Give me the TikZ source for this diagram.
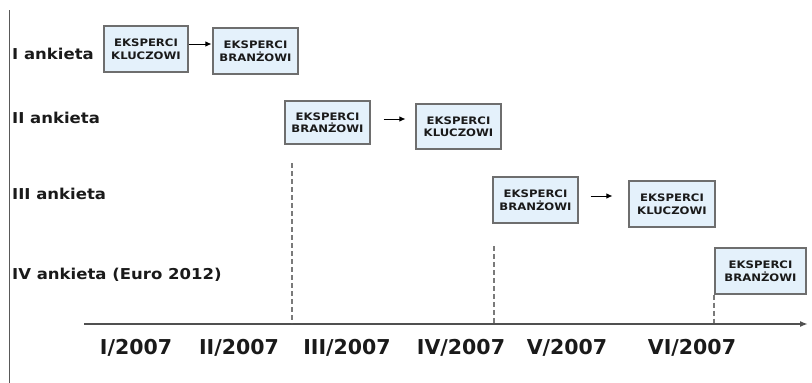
\documentclass[tikz,border=0pt]{standalone}
\usepackage{fontspec}
\setmainfont{DejaVu Sans}
\newfontfamily\boxfont[FakeStretch=1.13]{DejaVu Sans}
\newfontfamily\rowfont[FakeStretch=1.1]{DejaVu Sans}
\usetikzlibrary{arrows.meta}
\definecolor{boxfill}{HTML}{E4F1FB}
\definecolor{boxline}{HTML}{6E6E6E}
\definecolor{dashcol}{HTML}{7A7A7A}
\definecolor{axiscol}{HTML}{505050}
\definecolor{txt}{HTML}{1A1A1A}
\tikzset{
  stagebox/.style={draw=boxline, line width=1.1pt, fill=boxfill, minimum width=85pt, minimum height=45pt,
    inner sep=0pt, align=center, text=txt, font=\boxfont\bfseries\fontsize{10.3}{12.5}\selectfont},
  rowlabel/.style={anchor=west, inner sep=0pt, text=txt, font=\rowfont\bfseries\fontsize{15}{18}\selectfont},
  yearlabel/.style={inner sep=0pt, text=txt, font=\bfseries\fontsize{20.5}{24}\selectfont},
  flow/.style={-{Latex[length=6pt,width=5.5pt]}, line width=0.9pt, black},
  timeline/.style={-{Latex[length=8pt,width=6pt]}, line width=1.8pt, axiscol},
  marker/.style={dashcol, line width=1.1pt, dash pattern=on 5pt off 3pt},
}
\begin{document}
\begin{tikzpicture}[x=1pt,y=-1pt]
\useasboundingbox (0,0) rectangle (812,383);
% left border line
\coordinate (lt) at (9.5,10);
\coordinate (lb) at (9.5,383);
\draw[line width=1pt, black!65] (lt) -- (lb);
% row labels
\node[rowlabel] (r1) at (12,54) {I ankieta};
\node[rowlabel] (r2) at (12,118) {II ankieta};
\node[rowlabel] (r3) at (12,194) {III ankieta};
\node[rowlabel] (r4) at (12,275) {IV ankieta (Euro 2012)};
% boxes
\node[stagebox, minimum width=84pt, minimum height=46pt] (A) at (146,49) {EKSPERCI\\KLUCZOWI};
\node[stagebox, minimum height=46pt] (B) at (255.5,51) {EKSPERCI\\BRANŻOWI};
\node[stagebox, minimum height=43pt] (C) at (327.5,122.5) {EKSPERCI\\BRANŻOWI};
\node[stagebox] (D) at (458.5,126.5) {EKSPERCI\\KLUCZOWI};
\node[stagebox, minimum height=46pt] (E) at (535.5,200) {EKSPERCI\\BRANŻOWI};
\node[stagebox, minimum width=86pt, minimum height=46pt] (F) at (672,204) {EKSPERCI\\KLUCZOWI};
\node[stagebox, minimum width=91pt, minimum height=46pt] (G) at (760.5,271) {EKSPERCI\\BRANŻOWI};
% flow arrows
\draw[flow, shorten >=1pt] ([yshift=5pt]A.east) -- ([yshift=7pt]B.west);
\draw[flow, shorten <=13pt, shorten >=10pt] ([yshift=3.5pt]C.east) -- ([yshift=7.5pt]D.west);
\draw[flow, shorten <=12pt, shorten >=16pt] ([yshift=4pt]E.east) -- ([yshift=8pt]F.west);
% time axis
\coordinate (ax0) at (84,324);
\coordinate (ax1) at (808,324);
\draw[timeline] (ax0) -- (ax1);
% dashed markers
\coordinate (m1t) at (292,163);
\coordinate (m1b) at (292,323);
\coordinate (m2t) at (494,246);
\coordinate (m2b) at (494,323);
\coordinate (m3b) at (714,323);
\draw[marker] (m1t) -- (m1b);
\draw[marker] (m2t) -- (m2b);
\draw[marker] (G.south west -| m3b) -- (m3b);
% year labels
\node[yearlabel] (y1) at (136,348) {I/2007};
\node[yearlabel] (y2) at (239,348) {II/2007};
\node[yearlabel] (y3) at (347,348) {III/2007};
\node[yearlabel] (y4) at (461,348) {IV/2007};
\node[yearlabel] (y5) at (567,348) {V/2007};
\node[yearlabel] (y6) at (692,348) {VI/2007};
\end{tikzpicture}
\end{document}
